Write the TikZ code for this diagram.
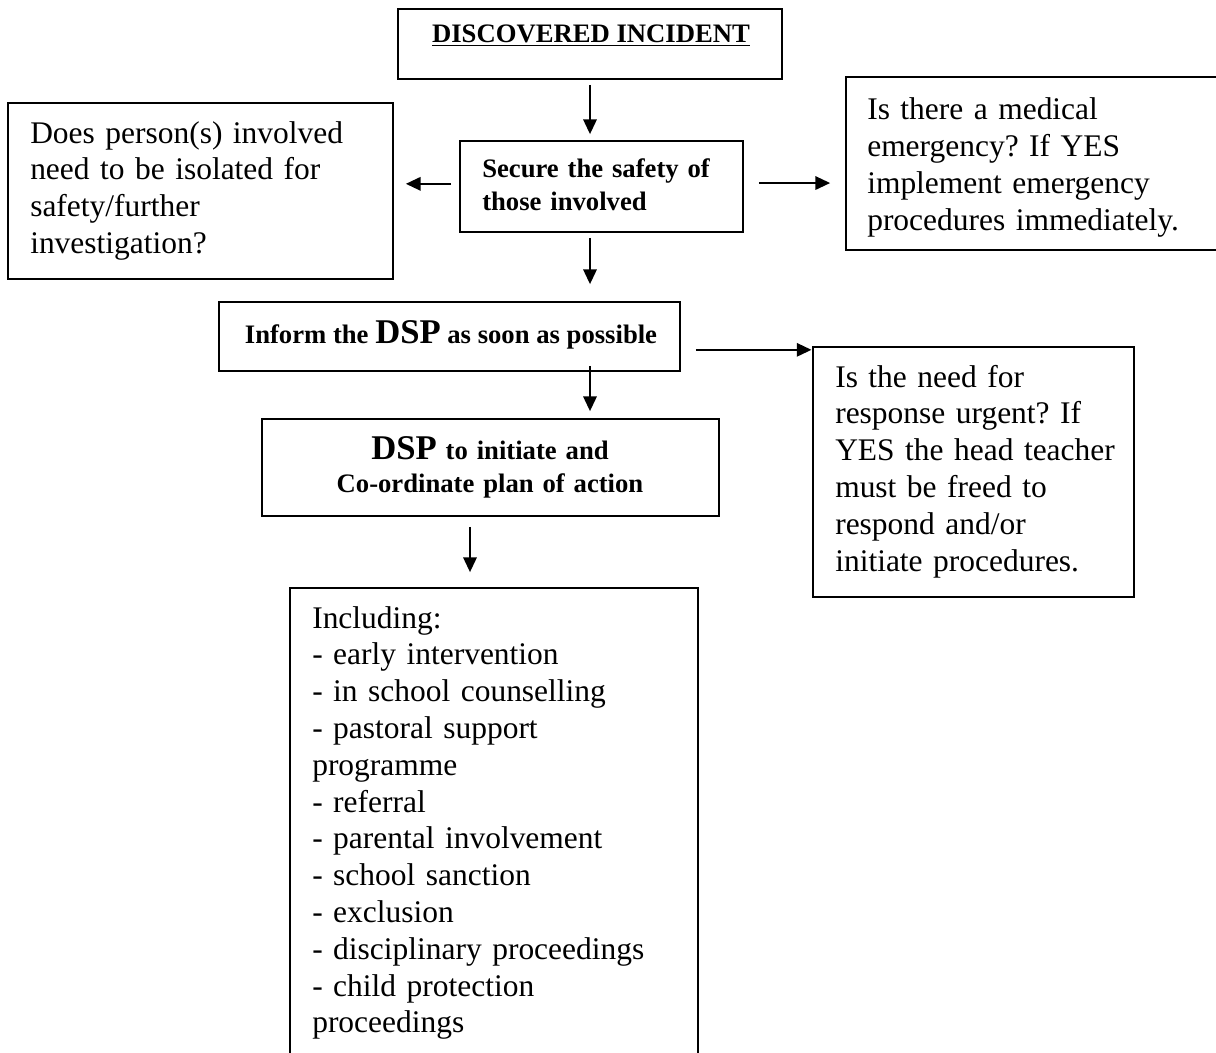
\documentclass[tikz,border=0pt]{standalone}
\usepackage{fontspec}
\setmainfont{Liberation Serif}
\usetikzlibrary{arrows.meta,fit}
\frenchspacing
\begin{document}
\begin{tikzpicture}[x=0.75pt,y=-0.75pt,
  box/.style={draw, line width=1.3pt, inner sep=0pt},
  txt/.style={anchor=base west, inner sep=0pt, text width=290pt, align=left,
              font=\fontsize{23.6}{27.6}\selectfont\frenchspacing},
  btxt/.style={inner sep=0pt, font=\fontsize{20}{24.75}\selectfont\bfseries\frenchspacing},
  arr/.style={line width=1.5pt, -{Triangle[length=11pt,width=10pt]}}
]
\useasboundingbox (0,0) rectangle (1216,1052);
\clip (0,0) rectangle (1216,1052);

% boxes
\node[box, fit={(398,9)(782,79)}] (disc) {};
\node[box, fit={(460,141)(743,232)}] (sec) {};
\node[box, fit={(8,103)(393,279)}] (iso) {};
\node[box, fit={(846,77)(1235,250)}] (med) {};
\node[box, fit={(219,302)(680,371)}] (inf) {};
\node[box, fit={(813,347)(1134,597)}] (urg) {};
\node[box, fit={(262,419)(719,516)}] (dsp) {};
\node[box, fit={(290,588)(698,1075)}] (inc) {};

% texts
\node[btxt, anchor=base] (discT) at (591,43) {\underline{DISCOVERED INCIDENT}};
\node[btxt, anchor=base west, text width=240pt, align=left] (secT) at (482,177)
  {Secure the safety of\\those involved};
\node[txt] (isoT) at (30,143)
  {Does person(s) involved\\need to be isolated for\\safety/further\\investigation?};
\node[txt] (medT) at (867,120)
  {Is there a medical\\emergency? If YES\\implement emergency\\procedures immediately.};
\node[btxt, anchor=base] (infT) at (451,343)
  {Inform the {\fontsize{26}{28}\selectfont DSP} as soon as possible};
\node[txt] (urgT) at (835,387)
  {Is the need for\\response urgent? If\\YES the head teacher\\must be freed to\\respond and/or\\initiate procedures.};
\node[btxt, anchor=base, text width=330pt, align=center] (dspT) at (490,459)
  {{\fontsize{26}{28}\selectfont DSP} to initiate and\\Co-ordinate plan of action};
\node[txt] (incT) at (312,628)
  {Including:\\- early intervention\\- in school counselling\\- pastoral support\\programme\\- referral\\- parental involvement\\- school sanction\\- exclusion\\- disciplinary proceedings\\- child protection\\proceedings};

% connectors
\coordinate (c470) at (470,0);
\draw[arr, shorten <=3.75pt, shorten >=4.5pt] (disc.south) -- (disc.south |- sec.north);
\draw[arr, shorten <=6pt, shorten >=9pt] ([yshift=2pt]sec.west) -- ([yshift=2pt]sec.west -| iso.east);
\draw[arr, shorten <=11.25pt, shorten >=11.25pt] ([yshift=2.6pt]sec.east) -- ([yshift=2.6pt]sec.east -| med.west);
\draw[arr, shorten <=3.75pt, shorten >=12.75pt] (disc.south |- sec.south) -- (disc.south |- inf.north);
\draw[arr, shorten <=11.25pt, shorten >=0.5pt] ([yshift=-10pt]inf.east) -- ([yshift=-10pt]inf.east -| urg.west);
\draw[arr, shorten <=-4.5pt, shorten >=5.25pt] (disc.south |- inf.south) -- (disc.south |- dsp.north);
\draw[arr, shorten <=7.5pt, shorten >=11.25pt] (c470 |- dsp.south) -- (c470 |- inc.north);
\end{tikzpicture}
\end{document}
